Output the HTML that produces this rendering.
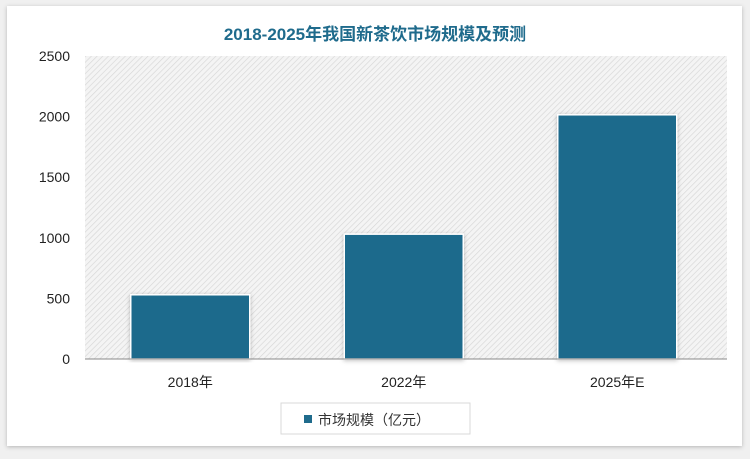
<!DOCTYPE html>
<html><head><meta charset="utf-8"><style>
body{margin:0;width:750px;height:454px;background:#f0f0f0;font-family:"Liberation Sans","Noto Sans CJK SC",sans-serif;overflow:hidden}
</style></head><body>
<svg width="750" height="454">
<defs>
<pattern id="hatch" width="4" height="4" patternUnits="userSpaceOnUse" patternTransform="rotate(45)">
<rect width="4" height="4" fill="#f4f4f4"/><line x1="0" y1="0" x2="0" y2="4" stroke="#d6d6d6" stroke-width="1.3"/>
</pattern>
<filter id="sh" x="-5%" y="-5%" width="110%" height="110%"><feDropShadow dx="0" dy="1" stdDeviation="2" flood-color="#000" flood-opacity="0.25"/></filter>
</defs>
<rect x="7" y="6" width="735" height="440" fill="#fff" filter="url(#sh)"/>
<text x="375" y="40" text-anchor="middle" font-size="17" font-weight="bold" fill="#1f6b8c">2018-2025年我国新茶饮市场规模及预测</text>
<rect x="85" y="56" width="642" height="303" fill="url(#hatch)"/>
<g id="yaxis"></g><g id="bars"></g><g id="xaxis"></g>
<line x1="85" y1="359" x2="727" y2="359" stroke="#888" stroke-width="1"/>
<g>
<rect x="281" y="403" width="189" height="31" fill="#fff" stroke="#d9d9d9"/>
<rect x="304" y="415" width="8" height="8" fill="#1f6b8c"/>
<text x="318" y="425" font-size="14" fill="#333">市场规模（亿元）</text>
</g>
</svg>
<script>
const categories=["2018年","2022年","2025年E"];
const values=[530,1030,2015];
const yTicks=[0,500,1000,1500,2000,2500];
const x0=83.5,x1=724,yTop=56,yBot=359,yMax=2500;
const ns="http://www.w3.org/2000/svg";
const y=v=>yBot-(v/yMax)*(yBot-yTop);
const band=(x1-x0)/categories.length;
const xc=i=>x0+band*(i+0.5);
const yg=document.getElementById('yaxis'),bg=document.getElementById('bars'),xg=document.getElementById('xaxis');
yTicks.forEach(t=>{const e=document.createElementNS(ns,'text');
e.setAttribute('x',70);e.setAttribute('y',y(t)+5);e.setAttribute('text-anchor','end');e.setAttribute('font-size','14');e.setAttribute('fill','#222');e.textContent=t;


yg.appendChild(e);});
const bw=119;
values.forEach((v,i)=>{const r=document.createElementNS(ns,'rect');
r.setAttribute('x',xc(i)-bw/2);r.setAttribute('y',y(v));r.setAttribute('width',bw);r.setAttribute('height',yBot-y(v));
r.setAttribute('fill','#1f6b8c');r.setAttribute('stroke','#fff');r.setAttribute('stroke-width','1.5');r.setAttribute('filter','url(#sh)');


bg.appendChild(r);
const t=document.createElementNS(ns,'text');
t.setAttribute('x',xc(i));t.setAttribute('y',387);t.setAttribute('text-anchor','middle');t.setAttribute('font-size','14');t.setAttribute('fill','#222');t.textContent=categories[i];


xg.appendChild(t);});
</script>
</body></html>
